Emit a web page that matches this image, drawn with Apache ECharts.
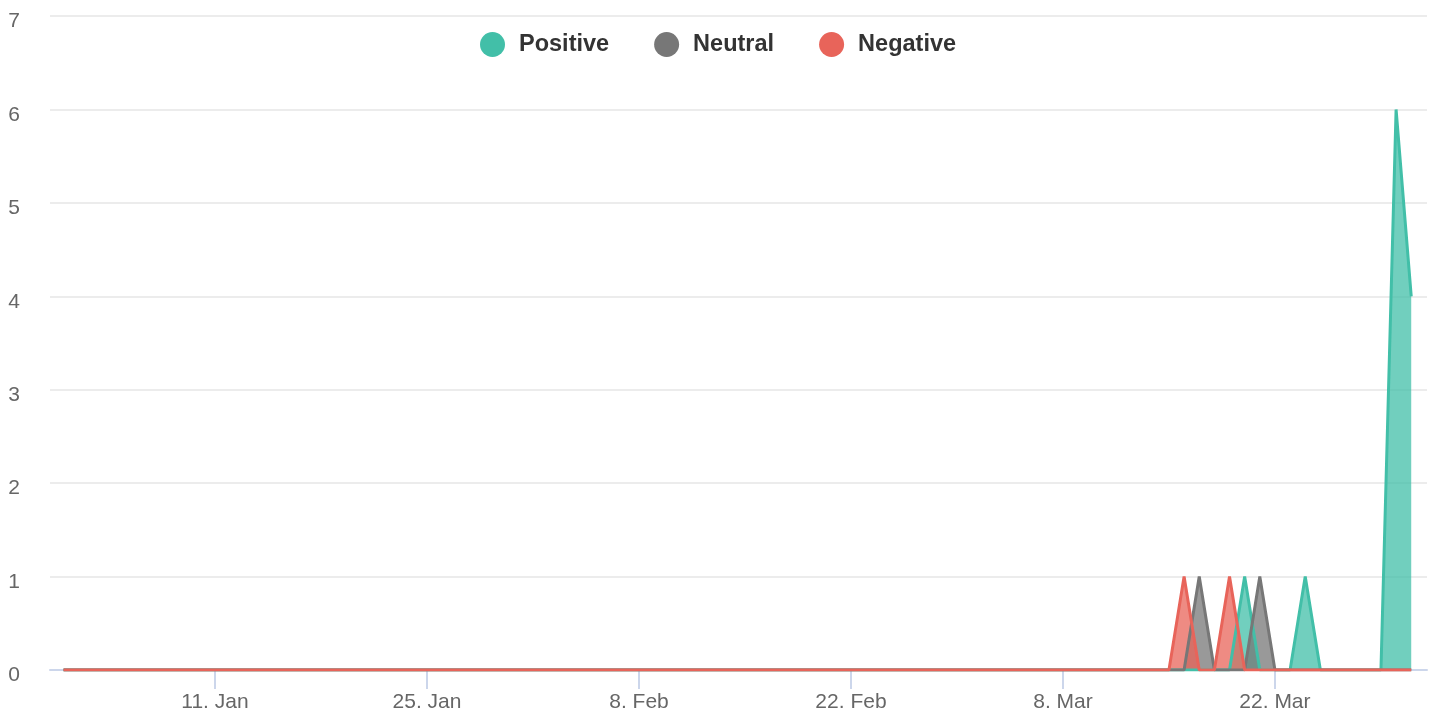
<!DOCTYPE html>
<html>
<head>
<meta charset="utf-8">
<title>Sentiment</title>
<script src="https://cdn.jsdelivr.net/npm/echarts@6/dist/echarts.min.js"></script>
<style>
  html, body { margin: 0; padding: 0; background: #fff; }
  #main { width: 1444px; height: 713px; }
</style>
</head>
<body>
<div id="main"></div>
<script>
// daily points, 1 Jan - 31 Mar 2021
const startDay = Date.UTC(2021, 0, 1);
const DAY = 24 * 3600 * 1000;

const positive = [
  0, 0, 0, 0, 0, 0, 0, 0, 0, 0,
  0, 0, 0, 0, 0, 0, 0, 0, 0, 0,
  0, 0, 0, 0, 0, 0, 0, 0, 0, 0,
  0, 0, 0, 0, 0, 0, 0, 0, 0, 0,
  0, 0, 0, 0, 0, 0, 0, 0, 0, 0,
  0, 0, 0, 0, 0, 0, 0, 0, 0, 0,
  0, 0, 0, 0, 0, 0, 0, 0, 0, 0,
  0, 0, 0, 0, 0, 0, 0, 0, 1, 0,
  0, 0, 1, 0, 0, 0, 0, 0, 6, 4
];
const neutral = [
  0, 0, 0, 0, 0, 0, 0, 0, 0, 0,
  0, 0, 0, 0, 0, 0, 0, 0, 0, 0,
  0, 0, 0, 0, 0, 0, 0, 0, 0, 0,
  0, 0, 0, 0, 0, 0, 0, 0, 0, 0,
  0, 0, 0, 0, 0, 0, 0, 0, 0, 0,
  0, 0, 0, 0, 0, 0, 0, 0, 0, 0,
  0, 0, 0, 0, 0, 0, 0, 0, 0, 0,
  0, 0, 0, 0, 0, 1, 0, 0, 0, 1,
  0, 0, 0, 0, 0, 0, 0, 0, 0, 0
];
const negative = [
  0, 0, 0, 0, 0, 0, 0, 0, 0, 0,
  0, 0, 0, 0, 0, 0, 0, 0, 0, 0,
  0, 0, 0, 0, 0, 0, 0, 0, 0, 0,
  0, 0, 0, 0, 0, 0, 0, 0, 0, 0,
  0, 0, 0, 0, 0, 0, 0, 0, 0, 0,
  0, 0, 0, 0, 0, 0, 0, 0, 0, 0,
  0, 0, 0, 0, 0, 0, 0, 0, 0, 0,
  0, 0, 0, 0, 1, 0, 0, 1, 0, 0,
  0, 0, 0, 0, 0, 0, 0, 0, 0, 0
];

// tick dates on the x axis
const tickDates = ["2021-01-11", "2021-01-25", "2021-02-08", "2021-02-22", "2021-03-08", "2021-03-22"];
const monthNames = ["Jan", "Feb", "Mar", "Apr", "May", "Jun", "Jul", "Aug", "Sep", "Oct", "Nov", "Dec"];

const tickValues = tickDates.map((d) => Date.parse(d + "T00:00:00Z"));

function toPairs(values) {
  return values.map((v, i) => [startDay + i * DAY, v]);
}

function makeSeries(name, color, values) {
  return {
    name: name,
    type: "line",
    data: toPairs(values),
    showSymbol: false,
    symbol: "circle",
    lineStyle: { color: color, width: 3 },
    itemStyle: { color: color },
    areaStyle: { color: color, opacity: 0.75 },
  };
}

const chart = echarts.init(document.getElementById("main"), null, { renderer: "canvas" });

const option = {
  animation: false,
  textStyle: { fontFamily: "Liberation Sans, Arial, sans-serif" },
  legend: {
    top: 27,
    left: 475,
    icon: "circle",
    itemWidth: 25,
    itemHeight: 25,
    itemGap: 45,
    textStyle: {
      color: "#333",
      fontWeight: "bold",
      fontSize: 23.5,
      padding: [0, 0, 0, 9],
    },
  },
  grid: { left: 50, right: 17, top: 16, bottom: 43 },
  xAxis: {
    type: "value",
    min: Date.UTC(2020, 11, 31, 2, 30),
    max: Date.UTC(2021, 3, 1, 1, 0),
    axisLine: { lineStyle: { color: "#ccd6eb", width: 2 } },
    axisTick: {
      customValues: tickValues,
      length: 19,
      lineStyle: { color: "#ccd6eb", width: 2 },
    },
    axisLabel: {
      customValues: tickValues,
      color: "#666",
      fontSize: 21,
      margin: 22,
      formatter: function (val) {
        const d = new Date(val);
        return d.getUTCDate() + ". " + monthNames[d.getUTCMonth()];
      },
    },
    splitLine: { show: false },
  },
  yAxis: {
    type: "value",
    min: 0,
    max: 7,
    interval: 1,
    axisLine: { show: false },
    axisTick: { show: false },
    axisLabel: {
      color: "#666",
      fontSize: 21,
      margin: 30,
      formatter: (v) => "{v|" + v + "}",
      rich: { v: { color: "#666", fontSize: 21, padding: [11, 0, 0, 0] } },
    },
    splitLine: { lineStyle: { color: "#e6e6e6", width: 1.5 } },
  },
  series: [
    makeSeries("Positive", "#42bfa8", positive),
    makeSeries("Neutral", "#777777", neutral),
    makeSeries("Negative", "#e8645a", negative),
  ],
};

chart.setOption(option);
</script>
</body>
</html>
